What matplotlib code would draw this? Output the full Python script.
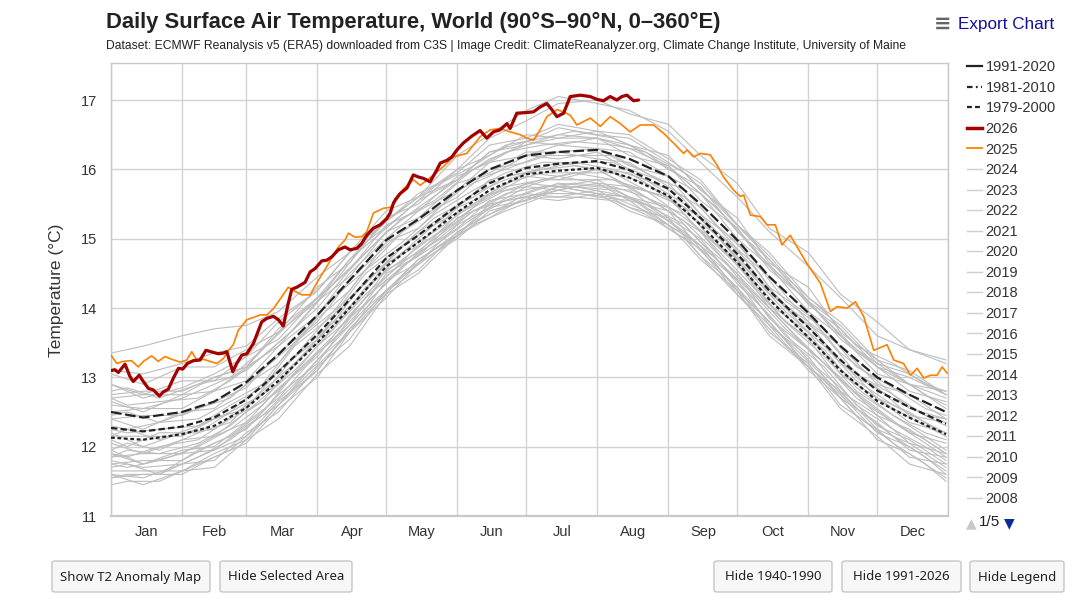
import matplotlib
matplotlib.use('Agg')
import matplotlib.pyplot as plt
from matplotlib.lines import Line2D
from matplotlib.patches import FancyBboxPatch

plt.rcParams['font.family'] = ['Liberation Sans', 'DejaVu Sans']

# ---------------- data ----------------
month_labels = ['Jan', 'Feb', 'Mar', 'Apr', 'May', 'Jun', 'Jul', 'Aug', 'Sep', 'Oct', 'Nov', 'Dec']
month_starts = [0, 31, 59, 90, 120, 151, 181, 212, 243, 273, 304, 334, 365]
y_ticks = [11, 12, 13, 14, 15, 16, 17]

# semi-monthly sample days (day of year, Jan 1 = 0)
clim_days = [0, 14, 31, 45, 59, 73, 90, 104, 120, 134, 151, 165, 181, 195, 212, 226, 243, 257, 273, 287, 304, 318, 334, 348, 364]
clim_1991_2020 = [12.50, 12.42, 12.50, 12.65, 12.93, 13.33, 13.90, 14.40, 14.98, 15.28, 15.70, 16.00, 16.20, 16.25, 16.28, 16.15, 15.90, 15.50, 14.98, 14.45, 13.93, 13.45, 13.00, 12.75, 12.50]
clim_1981_2010 = [12.27, 12.22, 12.29, 12.42, 12.68, 13.08, 13.62, 14.12, 14.72, 15.05, 15.48, 15.80, 16.02, 16.08, 16.12, 15.99, 15.72, 15.30, 14.78, 14.25, 13.72, 13.25, 12.81, 12.57, 12.33]
clim_1979_2000 = [12.13, 12.10, 12.18, 12.30, 12.56, 12.95, 13.50, 14.00, 14.60, 14.95, 15.38, 15.70, 15.93, 15.98, 16.02, 15.88, 15.62, 15.20, 14.66, 14.12, 13.58, 13.10, 12.66, 12.42, 12.18]

days_2026 = [0.3, 1.7, 3.2, 6.1, 8.3, 9.7, 12.3, 14.1, 16.3, 18.4, 21.1, 22.8, 25, 27.2, 29.4, 31.3, 33.3, 35.9, 38.8, 41.4,
             44.6, 46.8, 49, 50.5, 53.1, 54.8, 57, 59.2, 62.1, 65.7, 67.9, 70.8, 73, 75.1, 77.3, 78.8, 81, 84.6, 86.8, 89,
             91.9, 94.1, 96.3, 99.1, 102, 104.2, 107.2, 109.3, 111.5, 114.4, 117.3, 120.2, 121.7, 123.1, 123.9, 126, 129,
             131.8, 134, 136.2, 139.1, 142, 143.5, 146.4, 148.6, 150.8, 153.6, 157.3, 160.9, 163.8, 166.7, 169.6, 172.6,
             174, 176.9, 181.3, 184.2, 187.1, 190, 192.2, 194.4, 197.3, 200.2, 204.6, 208.9, 211.8, 214.7, 217.6, 220.5,
             222.7, 224.9, 227.8, 230]
temp_2026 = [13.10, 13.11, 13.07, 13.19, 13.01, 12.94, 13.03, 12.94, 12.84, 12.82, 12.73, 12.79, 12.83, 12.99, 13.13, 13.12,
             13.20, 13.24, 13.25, 13.39, 13.36, 13.34, 13.35, 13.37, 13.08, 13.20, 13.32, 13.34, 13.49, 13.80, 13.85, 13.88,
             13.83, 13.74, 14.07, 14.27, 14.30, 14.37, 14.52, 14.57, 14.68, 14.69, 14.74, 14.84, 14.88, 14.84, 14.86, 14.93,
             15.05, 15.15, 15.20, 15.29, 15.37, 15.51, 15.56, 15.65, 15.73, 15.92, 15.89, 15.87, 15.82, 15.99, 16.09, 16.13,
             16.18, 16.28, 16.38, 16.48, 16.56, 16.45, 16.54, 16.57, 16.66, 16.59, 16.81, 16.82, 16.83, 16.90, 16.95, 16.86,
             16.76, 16.81, 17.05, 17.07, 17.05, 17.01, 16.99, 17.05, 17.00, 17.05, 17.07, 16.99, 17.00]

days_2025 = [0, 2.5, 5.2, 9, 11.9, 14.1, 17.7, 20.6, 23.5, 26.5, 30.1, 33, 35.2, 37.4, 40.3, 43.2, 46.1, 49, 51.2, 53.3,
             55.5, 59.2, 65, 67.9, 70.8, 74.4, 77.3, 80.2, 83.2, 86.8, 90.4, 94.1, 96.9, 99.1, 102, 103.5, 106.4, 109.3,
             111.5, 114.4, 118.8, 121.7, 123.9, 127.5, 131.8, 134.8, 140.6, 144.9, 149.3, 155.1, 160.9, 165.3, 169.6, 174,
             178.4, 181.3, 184.2, 187.1, 190, 194.4, 197.3, 200.2, 203.1, 206, 208.9, 213.3, 217.6, 222, 226.3, 230.7,
             236.5, 240.9, 245.2, 249.6, 251.1, 254, 256.9, 261.2, 264.2, 267, 271.4, 274.3, 275.8, 278.7, 283, 286, 289.6,
             292.5, 296.1, 299.1, 303.4, 309.2, 313.6, 316.5, 320.9, 324.5, 328.1, 332.5, 338.3, 341.2, 345.5, 348.5,
             351.4, 354.3, 357.2, 360.1, 362.3, 364.5]
temp_2025 = [13.32, 13.20, 13.23, 13.24, 13.15, 13.23, 13.31, 13.23, 13.30, 13.26, 13.22, 13.25, 13.37, 13.25, 13.26, 13.23,
             13.20, 13.27, 13.39, 13.47, 13.68, 13.83, 13.90, 13.90, 13.99, 14.16, 14.30, 14.24, 14.19, 14.19, 14.40, 14.60,
             14.76, 14.88, 14.98, 15.08, 15.02, 15.03, 15.10, 15.37, 15.44, 15.45, 15.53, 15.72, 15.85, 15.77, 15.92, 16.04,
             16.18, 16.23, 16.47, 16.57, 16.59, 16.54, 16.50, 16.45, 16.42, 16.57, 16.76, 16.86, 16.83, 16.78, 16.64, 16.69,
             16.74, 16.62, 16.76, 16.66, 16.54, 16.64, 16.64, 16.52, 16.38, 16.23, 16.28, 16.18, 16.23, 16.21, 16.06, 15.89,
             15.70, 15.61, 15.63, 15.34, 15.32, 15.20, 15.20, 14.91, 15.05, 14.88, 14.64, 14.36, 13.95, 14.02, 14.00, 14.09,
             13.88, 13.39, 13.47, 13.25, 13.20, 13.03, 13.13, 12.99, 13.03, 13.03, 13.15, 13.06]

# other years (grey), estimates on clim_days
grey_years = {
    '2024': [13.35, 13.45, 13.60, 13.70, 13.75, 13.95, 14.45, 14.80, 15.40, 15.60, 16.20, 16.50, 16.85, 17.05, 16.95, 16.85, 16.55, 16.10, 15.60, 15.10, 14.60, 14.15, 13.60, 13.40, 13.20],
    '2023': [12.90, 12.70, 12.85, 13.05, 13.30, 13.80, 14.25, 14.80, 15.25, 15.60, 16.00, 16.45, 16.70, 16.95, 17.00, 16.80, 16.65, 16.20, 15.80, 15.15, 14.80, 14.20, 13.80, 13.40, 13.25],
    '2022': [12.75, 12.80, 12.80, 13.00, 13.15, 13.70, 14.15, 14.70, 15.25, 15.65, 15.95, 16.35, 16.45, 16.65, 16.55, 16.50, 16.15, 15.85, 15.20, 14.80, 14.15, 13.80, 13.25, 13.10, 12.75],
    '2021': [12.60, 12.55, 12.70, 12.90, 13.10, 13.50, 14.00, 14.55, 15.10, 15.45, 15.85, 16.15, 16.35, 16.45, 16.45, 16.30, 16.05, 15.65, 15.15, 14.60, 14.10, 13.60, 13.15, 12.90, 12.70],
    '2020': [13.05, 12.90, 13.15, 13.15, 13.40, 13.65, 14.30, 14.65, 15.30, 15.50, 16.00, 16.20, 16.50, 16.45, 16.55, 16.35, 16.20, 15.70, 15.30, 14.65, 14.30, 13.65, 13.25, 12.90, 12.80],
    '2019': [12.70, 12.75, 12.75, 13.00, 13.15, 13.65, 14.10, 14.70, 15.15, 15.55, 15.85, 16.25, 16.40, 16.60, 16.50, 16.45, 16.10, 15.80, 15.20, 14.75, 14.10, 13.75, 13.20, 13.05, 12.75],
    '2017': [12.90, 12.75, 12.95, 12.95, 13.30, 13.55, 14.15, 14.55, 15.20, 15.40, 15.90, 16.10, 16.40, 16.35, 16.45, 16.20, 16.05, 15.55, 15.15, 14.55, 14.10, 13.55, 13.15, 12.80, 12.65],
    '2016': [13.10, 13.05, 13.20, 13.35, 13.45, 13.85, 14.25, 14.80, 15.25, 15.60, 15.85, 16.25, 16.35, 16.50, 16.45, 16.35, 16.00, 15.75, 15.10, 14.70, 14.05, 13.70, 13.15, 13.00, 12.75],
    '2014': [12.50, 12.55, 12.55, 12.80, 12.95, 13.45, 13.90, 14.50, 15.00, 15.40, 15.70, 16.10, 16.20, 16.35, 16.30, 16.25, 15.90, 15.65, 15.00, 14.60, 13.95, 13.60, 13.05, 12.90, 12.55],
    '2010': [12.65, 12.50, 12.75, 12.80, 13.15, 13.45, 14.10, 14.45, 15.10, 15.30, 15.80, 15.95, 16.25, 16.25, 16.30, 16.05, 15.90, 15.35, 14.95, 14.30, 13.90, 13.35, 12.95, 12.55, 12.40],
    '2005': [12.40, 12.45, 12.45, 12.65, 12.85, 13.35, 13.80, 14.40, 14.90, 15.30, 15.60, 16.00, 16.10, 16.25, 16.15, 16.10, 15.75, 15.45, 14.85, 14.45, 13.80, 13.45, 12.90, 12.75, 12.40],
    '1998': [12.40, 12.25, 12.50, 12.55, 12.90, 13.20, 13.85, 14.25, 14.95, 15.15, 15.70, 15.90, 16.20, 16.15, 16.25, 16.00, 15.80, 15.30, 14.85, 14.20, 13.80, 13.20, 12.85, 12.45, 12.35],
    '1995': [12.15, 12.15, 12.15, 12.40, 12.55, 13.10, 13.55, 14.15, 14.65, 15.10, 15.45, 15.85, 15.95, 16.10, 16.00, 15.95, 15.60, 15.30, 14.70, 14.25, 13.65, 13.25, 12.70, 12.50, 12.15],
    '1990': [12.20, 12.00, 12.20, 12.25, 12.60, 12.90, 13.55, 13.95, 14.65, 14.90, 15.45, 15.65, 15.95, 15.90, 16.00, 15.75, 15.60, 15.10, 14.70, 14.05, 13.65, 13.05, 12.70, 12.35, 12.20],
    '1985': [11.85, 11.90, 11.90, 12.15, 12.35, 12.85, 13.30, 13.90, 14.45, 14.90, 15.25, 15.65, 15.75, 15.90, 15.80, 15.75, 15.40, 15.10, 14.45, 14.00, 13.40, 13.00, 12.45, 12.25, 11.90],
    '1980': [12.05, 11.90, 12.10, 12.15, 12.50, 12.80, 13.45, 13.85, 14.55, 14.80, 15.35, 15.60, 15.90, 15.85, 16.00, 15.75, 15.60, 15.10, 14.65, 14.00, 13.55, 12.95, 12.55, 12.20, 12.05],
    '1975': [11.75, 11.80, 11.80, 12.05, 12.25, 12.75, 13.20, 13.85, 14.35, 14.80, 15.15, 15.55, 15.65, 15.80, 15.75, 15.70, 15.30, 15.00, 14.35, 13.90, 13.25, 12.85, 12.30, 12.10, 11.75],
    '1970': [11.90, 11.75, 11.95, 12.00, 12.35, 12.70, 13.35, 13.75, 14.50, 14.75, 15.30, 15.50, 15.80, 15.75, 15.85, 15.60, 15.45, 14.95, 14.50, 13.85, 13.40, 12.80, 12.45, 12.05, 11.90],
    '1965': [11.65, 11.65, 11.65, 11.90, 12.10, 12.60, 13.10, 13.70, 14.25, 14.70, 15.05, 15.50, 15.60, 15.75, 15.65, 15.60, 15.25, 14.90, 14.25, 13.80, 13.15, 12.75, 12.20, 12.00, 11.65],
    '1960': [11.95, 11.75, 11.90, 11.95, 12.30, 12.60, 13.25, 13.65, 14.40, 14.65, 15.20, 15.45, 15.75, 15.70, 15.80, 15.55, 15.40, 14.85, 14.40, 13.75, 13.30, 12.70, 12.35, 11.95, 11.85],
    '1955': [11.55, 11.60, 11.60, 11.85, 12.05, 12.55, 13.00, 13.65, 14.15, 14.65, 15.00, 15.40, 15.55, 15.70, 15.60, 15.55, 15.15, 14.85, 14.20, 13.75, 13.10, 12.70, 12.10, 11.90, 11.55],
    '1950': [11.60, 11.45, 11.65, 11.70, 12.10, 12.40, 13.05, 13.45, 14.20, 14.50, 15.05, 15.30, 15.60, 15.55, 15.65, 15.40, 15.20, 14.70, 14.25, 13.60, 13.15, 12.55, 12.15, 11.75, 11.60],
    '1945': [11.80, 11.70, 11.75, 11.95, 12.15, 12.65, 13.10, 13.70, 14.25, 14.70, 15.05, 15.45, 15.55, 15.75, 15.65, 15.60, 15.20, 14.90, 14.25, 13.80, 13.15, 12.80, 12.25, 12.05, 11.70],
    '1940': [11.60, 11.55, 11.75, 11.80, 12.20, 12.50, 13.15, 13.55, 14.25, 14.55, 15.10, 15.35, 15.65, 15.60, 15.70, 15.45, 15.30, 14.75, 14.30, 13.65, 13.20, 12.60, 12.25, 11.85, 11.75],
}

# more years (grey), estimates on a shifted sample grid
grey_days_b = [0, 7, 21, 38, 52, 66, 80, 97, 111, 127, 141, 158, 172, 188, 202, 219, 233, 250, 264, 280, 294, 311, 325, 341, 355, 364]
grey_years_b = {
    '2018': [12.45, 12.50, 12.35, 12.55, 12.70, 13.10, 13.50, 14.15, 14.55, 15.10, 15.40, 15.85, 16.00, 16.20, 16.20, 16.20, 15.95, 15.70, 15.20, 14.70, 14.10, 13.70, 13.15, 12.85, 12.55, 12.45],
    '2015': [12.70, 12.60, 12.65, 12.70, 12.95, 13.30, 13.70, 14.35, 14.80, 15.30, 15.55, 16.00, 16.25, 16.35, 16.40, 16.35, 16.25, 15.85, 15.45, 14.85, 14.40, 13.85, 13.40, 13.05, 12.75, 12.60],
    '2013': [12.80, 12.85, 12.70, 12.90, 13.00, 13.40, 13.85, 14.35, 14.95, 15.35, 15.75, 16.05, 16.35, 16.45, 16.55, 16.45, 16.25, 15.95, 15.50, 14.95, 14.45, 13.95, 13.45, 13.20, 12.90, 12.80],
    '2002': [12.30, 12.25, 12.35, 12.40, 12.65, 12.90, 13.50, 13.95, 14.55, 14.95, 15.35, 15.70, 15.95, 16.10, 16.10, 16.10, 15.85, 15.60, 15.10, 14.60, 14.00, 13.60, 13.05, 12.75, 12.45, 12.40],
    '1992': [12.15, 12.25, 12.10, 12.30, 12.50, 12.90, 13.30, 13.95, 14.35, 14.90, 15.20, 15.65, 15.85, 16.00, 16.05, 15.95, 15.80, 15.40, 15.05, 14.45, 13.95, 13.45, 12.95, 12.60, 12.35, 12.20],
    '1988': [12.10, 12.00, 12.20, 12.20, 12.50, 12.75, 13.30, 13.80, 14.40, 14.80, 15.20, 15.50, 15.80, 15.95, 15.95, 15.95, 15.70, 15.45, 14.90, 14.40, 13.90, 13.35, 12.90, 12.55, 12.30, 12.15],
    '1983': [11.95, 12.05, 11.95, 12.20, 12.35, 12.80, 13.20, 13.80, 14.25, 14.80, 15.10, 15.50, 15.75, 15.85, 15.95, 15.85, 15.70, 15.30, 14.95, 14.35, 13.80, 13.40, 12.85, 12.45, 12.20, 12.10],
    '1978': [11.90, 11.85, 12.00, 12.10, 12.40, 12.65, 13.20, 13.70, 14.30, 14.70, 15.05, 15.45, 15.70, 15.85, 15.85, 15.85, 15.60, 15.35, 14.85, 14.30, 13.80, 13.30, 12.80, 12.45, 12.15, 11.95],
    '1972': [11.85, 11.95, 11.90, 12.05, 12.30, 12.70, 13.10, 13.70, 14.20, 14.65, 15.00, 15.40, 15.65, 15.75, 15.80, 15.75, 15.60, 15.25, 14.80, 14.25, 13.75, 13.20, 12.75, 12.35, 12.10, 11.90],
    '1967': [11.75, 11.70, 11.80, 12.00, 12.25, 12.60, 13.05, 13.60, 14.15, 14.60, 14.95, 15.40, 15.55, 15.75, 15.75, 15.70, 15.50, 15.20, 14.70, 14.20, 13.70, 13.20, 12.70, 12.35, 12.05, 11.85],
    '1962': [11.70, 11.75, 11.60, 11.95, 12.15, 12.50, 13.05, 13.55, 14.05, 14.60, 14.90, 15.30, 15.55, 15.65, 15.75, 15.65, 15.50, 15.10, 14.70, 14.15, 13.60, 13.15, 12.60, 12.25, 12.00, 11.80],
    '1957': [11.55, 11.60, 11.60, 11.85, 12.10, 12.45, 12.90, 13.50, 14.00, 14.45, 14.85, 15.25, 15.45, 15.65, 15.65, 15.60, 15.40, 15.05, 14.60, 14.05, 13.55, 13.00, 12.55, 12.15, 11.85, 11.60],
    '1948': [11.45, 11.50, 11.50, 11.75, 11.95, 12.35, 12.85, 13.40, 13.90, 14.45, 14.80, 15.20, 15.40, 15.60, 15.60, 15.55, 15.35, 15.00, 14.50, 13.95, 13.45, 12.95, 12.45, 12.05, 11.75, 11.50],
    '1943': [12.25, 12.20, 12.25, 12.30, 12.60, 12.85, 13.45, 13.90, 14.50, 14.90, 15.30, 15.60, 15.90, 16.00, 16.10, 16.00, 15.85, 15.50, 15.05, 14.50, 14.05, 13.50, 13.00, 12.70, 12.45, 12.30],
}
legend_years = ['2024', '2023', '2022', '2021', '2020', '2019', '2018', '2017', '2016', '2015',
                '2014', '2013', '2012', '2011', '2010', '2009', '2008']

# ---------------- styles ----------------
RED = '#a30000'
ORANGE = '#ff8000'
GREY = '#bdbdbd'
DARK = '#222222'
TXT = '#333333'

W, H = 1084, 603
def fx(px):
    return px / W
def fy(py):
    return 1 - py / H

fig = plt.figure(figsize=(W / 100, H / 100), dpi=100)
fig.patch.set_facecolor('white')
ax = fig.add_axes([fx(111), fy(516), (948.3 - 111) / W, (516 - 63) / H])

for yr, vals in grey_years.items():
    ax.plot(clim_days, vals, color=GREY, lw=0.8, zorder=2, solid_joinstyle='round')
for yr, vals in grey_years_b.items():
    ax.plot(grey_days_b, vals, color=GREY, lw=0.8, zorder=2, solid_joinstyle='round')

ax.plot(clim_days, clim_1979_2000, color=DARK, lw=1.6, dashes=(1.7, 1.2), zorder=4)
ax.plot(clim_days, clim_1981_2010, color=DARK, lw=1.6, dashes=(2.9, 1.4), zorder=4)
ax.plot(clim_days, clim_1991_2020, color=DARK, lw=1.6, dashes=(4.8, 1.6), zorder=4)

ax.plot(days_2025, temp_2025, color=ORANGE, lw=1.2, zorder=5, solid_joinstyle='round')
ax.plot(days_2026, temp_2026, color=RED, lw=2.3, zorder=6, solid_joinstyle='round', solid_capstyle='round')

ax.set_xlim(0, 365)
ax.set_ylim(11, 17.534)

ax.set_xticks(month_starts)
ax.set_xticklabels([''] * len(month_starts))
mids = [(month_starts[i] + month_starts[i + 1]) / 2 for i in range(12)]
ax.set_xticks(mids, minor=True)
ax.set_xticklabels(month_labels, minor=True)
ax.set_yticks(y_ticks)
ax.set_yticklabels([str(v) for v in y_ticks])
ax.tick_params(axis='x', which='both', length=0, pad=6.5, labelsize=10.5, labelcolor=TXT)
ax.tick_params(axis='y', which='both', length=0, pad=10, labelsize=10.5, labelcolor=TXT)
ax.grid(which='major', color='#d2d2d2', lw=1.0, zorder=0)
ax.set_axisbelow(True)
for s in ax.spines.values():
    s.set_color('#c8c8c8')
    s.set_linewidth(1.0)
ax.spines['bottom'].set_linewidth(1.6)

# titles
fig.text(fx(106), fy(22), 'Daily Surface Air Temperature, World (90°S–90°N, 0–360°E)',
         fontsize=15.8, fontweight='bold', color='#222222', ha='left', va='center')
fig.text(fx(106), fy(46), 'Dataset: ECMWF Reanalysis v5 (ERA5) downloaded from C3S | Image Credit: ClimateReanalyzer.org, Climate Change Institute, University of Maine',
         fontsize=8.75, color='#222222', ha='left', va='center')
fig.text(fx(57), fy(290), 'Temperature (°C)', rotation=90, fontsize=12.5, color=TXT, ha='center', va='center')

# export chart
fig.text(fx(943), fy(24), '≡', fontsize=15, color='#666666', ha='center', va='center',
         family=['DejaVu Sans'], fontweight='bold')
fig.text(fx(958), fy(24), 'Export Chart', fontsize=12.3, color='#10109a', ha='left', va='center')

# legend
handles = [
    Line2D([], [], color=DARK, lw=1.6),
    Line2D([], [], color=DARK, lw=1.6, dashes=(2.5, 1.5, 0.8, 1.5)),
    Line2D([], [], color=DARK, lw=1.6, dashes=(2.2, 1.4)),
    Line2D([], [], color=RED, lw=2.5),
    Line2D([], [], color=ORANGE, lw=1.3),
] + [Line2D([], [], color='#cfcfcf', lw=1.0) for _ in legend_years]
labels = ['1991-2020', '1981-2010', '1979-2000', '2026', '2025'] + legend_years
fig.legend(handles, labels, loc='upper left', bbox_to_anchor=(fx(960), fy(53)), frameon=False,
           fontsize=10.5, handlelength=1.0, handletextpad=0.25, labelspacing=0.45, borderpad=0,
           labelcolor=TXT)

fig.text(fx(971), fy(523), '▲', fontsize=10, color='#c8c8c8', ha='center', va='center', family=['DejaVu Sans'])
fig.text(fx(990), fy(522), '1/5', fontsize=11, color='#222222', ha='center', va='center')
fig.text(fx(1009), fy(523), '▼', fontsize=10, color='#0a2a9a', ha='center', va='center', family=['DejaVu Sans'])

# buttons
buttons = [
    ('Show T2 Anomaly Map', 52, 210),
    ('Hide Selected Area', 220, 352),
    ('Hide 1940-1990', 714, 832),
    ('Hide 1991-2026', 842, 961),
    ('Hide Legend', 970, 1064),
]
for text, x0, x1 in buttons:
    y0, y1 = 561, 592
    p = FancyBboxPatch((fx(x0), fy(y1)), (x1 - x0) / W, (y1 - y0) / H,
                       boxstyle='round,pad=0,rounding_size=0.003', transform=fig.transFigure,
                       fc='#f7f7f7', ec='#c6c6c6', lw=1.0)
    fig.patches.append(p)
    fig.text(fx((x0 + x1) / 2), fy(577), text, fontsize=9.5, color='#222222', ha='center', va='center',
             family=['Noto Sans', 'DejaVu Sans'])

fig.savefig('out.png', dpi=100, facecolor='white')
